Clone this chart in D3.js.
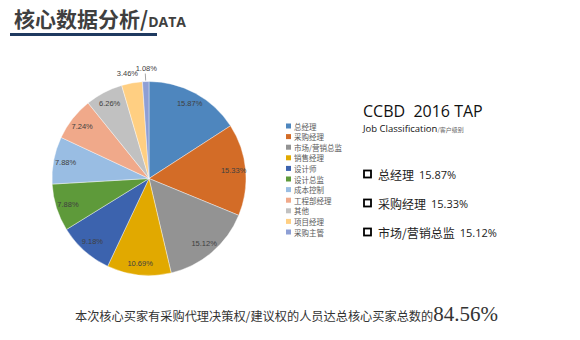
<!DOCTYPE html>
<html><head><meta charset="utf-8">
<script src="https://cdn.jsdelivr.net/npm/d3@7"></script>
<style>body{margin:0;background:#fff;}svg{display:block;}</style>
</head><body>
<script>
const categories = ["总经理","采购经理","市场/营销总监","销售经理","设计师","设计总监","成本控制","工程部经理","其他","项目经理","采购主管"];
const values = [15.87,15.33,15.12,10.69,9.18,7.88,7.88,7.24,6.26,3.46,1.08];
const colors = ["#4E86BE","#D36C27","#939393","#E1A900","#3C63AE","#5E9A3A","#99BDE3","#F0A98A","#C1C1C1","#FFCF82","#8E9FD5"];
const highlights = [["总经理","15.87%"],["采购经理","15.33%"],["市场/营销总监","15.12%"]];
const summaryText = "本次核心买家有采购代理决策权/建议权的人员达总核心买家总数的";
const summaryValue = "84.56%";

const W=580,H=340;
const svg=d3.select("body").append("svg").attr("width",W).attr("height",H);
svg.append("rect").attr("width",W).attr("height",H).attr("fill","#fff");

// title
const t=svg.append("text").attr("x",14).attr("y",27).attr("fill","#3F3F3F")
  .attr("font-family","'Noto Sans CJK SC'").attr("font-weight","bold");
t.append("tspan").attr("font-size",21).text("核心数据分析/");
t.append("tspan").attr("font-size",14).attr("font-family","'Open Sans'").text("DATA");
svg.append("line").attr("x1",10).attr("x2",157).attr("y1",34.5).attr("y2",34.5)
  .attr("stroke","#1F3A60").attr("stroke-width",3);

// pie
const cx=149, cy=178.5, R=97;
const g=svg.append("g").attr("transform",`translate(${cx},${cy})`);
const pie=d3.pie().sort(null).value(d=>d);
const arcs=pie(values);
const arc=d3.arc().innerRadius(0).outerRadius(R);
g.selectAll("path").data(arcs).join("path").attr("d",arc)
  .attr("fill",(d,i)=>colors[i]).attr("stroke","#fff").attr("stroke-width",0.4);

const labelArc=d3.arc().innerRadius(85).outerRadius(85);
const fmt=v=>v.toFixed(2)+"%";
arcs.forEach((d,i)=>{
  const mid=(d.startAngle+d.endAngle)/2;
  if(d.value>=5){
    const [x,y]=labelArc.centroid(d);
    g.append("text").attr("x",x).attr("y",y).attr("text-anchor","middle")
      .attr("dominant-baseline","central").attr("font-family","'Liberation Sans'")
      .attr("font-size",7.5).attr("fill","#404040").text(fmt(d.value));
  } else {
    const rr = i===values.length-1 ? R+12 : R+9;
    let x=Math.sin(mid)*rr, y=-Math.cos(mid)*rr;
    if(i===values.length-1){
      const x0=Math.sin(mid)*(R+1), y0=-Math.cos(mid)*(R+1);
      g.append("line").attr("x1",x0).attr("y1",y0).attr("x2",x).attr("y2",y+4)
        .attr("stroke","#7f7f7f").attr("stroke-width",0.7);
      x+=1; y-=1;
    } else { x-=3; y-=1; }
    g.append("text").attr("x",x).attr("y",y).attr("text-anchor","middle")
      .attr("dominant-baseline","central").attr("font-family","'Liberation Sans'")
      .attr("font-size",7.5).attr("fill","#404040").text(fmt(d.value));
  }
});

// legend
const leg=svg.append("g").attr("transform","translate(286,126)");
const ly=d3.scalePoint().domain(categories).range([0,106]);
categories.forEach((c,i)=>{
  leg.append("rect").attr("x",0).attr("y",ly(c)-2.5).attr("width",5).attr("height",5).attr("fill",colors[i]);
  leg.append("text").attr("x",8).attr("y",ly(c)).attr("dominant-baseline","central")
    .attr("font-family","'Noto Sans CJK SC'").attr("font-size",7.5).attr("fill","#595959").text(c);
});

// right text
svg.append("text").attr("x",363).attr("y",117).attr("font-family","'Open Sans'")
  .attr("font-size",16).attr("fill","#111").attr("xml:space","preserve").text("CCBD  2016 TAP");
const jc=svg.append("text").attr("x",363).attr("y",132).attr("font-family","'Open Sans'").attr("fill","#111");
jc.append("tspan").attr("font-size",9.5).text("Job Classification");
jc.append("tspan").attr("font-size",6).attr("fill","#666").attr("font-family","'Noto Sans CJK SC'").text("/客户级别");

const hy=d3.scalePoint().domain(highlights.map(d=>d[0])).range([174,232]);
highlights.forEach(([n,v])=>{
  svg.append("rect").attr("x",364).attr("y",hy(n)-3.5).attr("width",7).attr("height",7)
    .attr("fill","none").attr("stroke","#000").attr("stroke-width",1.8);
  const tx=svg.append("text").attr("x",378).attr("y",hy(n)).attr("dominant-baseline","central")
    .attr("fill","#222").attr("font-family","'Noto Sans CJK SC'").attr("font-size",12);
  tx.append("tspan").text(n);
  tx.append("tspan").attr("dx",5).attr("font-family","'Open Sans'").attr("font-size",11).text(v);
});

// bottom summary
const s=svg.append("text").attr("x",75).attr("y",321).attr("fill","#333");
s.append("tspan").attr("font-family","'Noto Sans CJK SC'").attr("font-size",12.2).text(summaryText);
s.append("tspan").attr("font-family","'Liberation Serif', 'DejaVu Serif', serif").attr("font-size",21).text(summaryValue);
</script>
</body></html>
